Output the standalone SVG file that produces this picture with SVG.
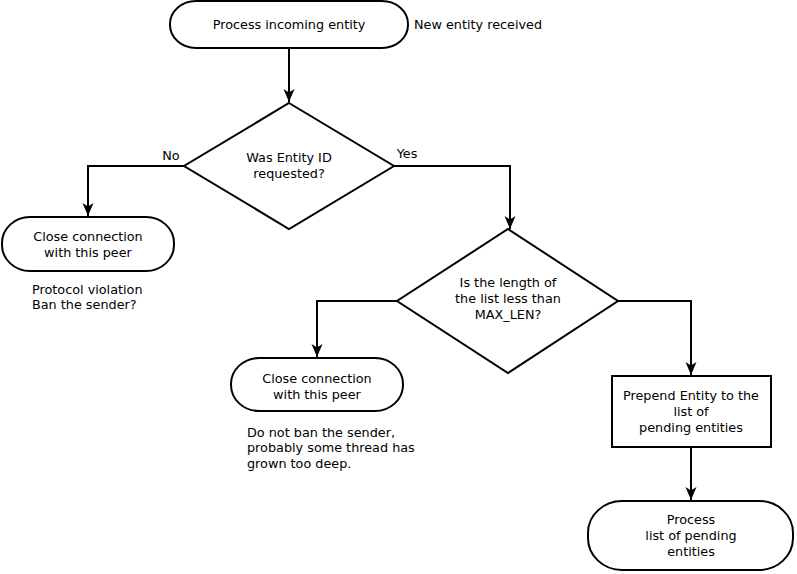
<svg xmlns="http://www.w3.org/2000/svg" width="797" height="574" viewBox="0 0 797 574">
  <style>
    .shape { fill: #ffffff; stroke: #000000; stroke-width: 2; }
    .edge { fill: none; stroke: #000000; stroke-width: 2; }
    text { font-family: "DejaVu Sans", "Liberation Sans", sans-serif; font-size: 12.8px; fill: #000000; }
    .c { text-anchor: middle; }
  </style>
  <defs>
    <marker id="arrow" markerUnits="userSpaceOnUse" markerWidth="14" markerHeight="14" viewBox="0 0 14 14" refX="13" refY="7" orient="auto">
      <path d="M0,1.5 L13,7 L0,12.5 L3.5,7 Z" fill="#000000"/>
    </marker>
  </defs>

  <rect width="797" height="574" fill="#ffffff"/>

  <!-- connectors -->
  <g id="connectors">
    <path class="edge" d="M289,48 V102" marker-end="url(#arrow)"/>
    <path class="edge" d="M184,166 H88 V216" marker-end="url(#arrow)"/>
    <path class="edge" d="M394,166 H510 V229" marker-end="url(#arrow)"/>
    <path class="edge" d="M397,301 H317 V357" marker-end="url(#arrow)"/>
    <path class="edge" d="M618,301 H691 V375" marker-end="url(#arrow)"/>
    <path class="edge" d="M691,447 V500" marker-end="url(#arrow)"/>
    <text x="171" y="160" class="c">No</text>
    <text x="407" y="158" class="c">Yes</text>
  </g>

  <!-- start -->
  <g id="start">
    <rect class="shape" x="170" y="1" width="238" height="47" rx="26" ry="23"/>
    <text x="289" y="29" class="c">Process incoming entity</text>
    <text x="414" y="29">New entity received</text>
  </g>

  <!-- decision: entity id requested -->
  <g id="check-requested">
    <polygon class="shape" points="289,103 394,166 289,229 184,166"/>
    <text x="289" y="162" class="c">Was Entity ID</text>
    <text x="289" y="178" class="c">requested?</text>
  </g>

  <!-- close: protocol violation -->
  <g id="close-violation">
    <rect class="shape" x="2" y="217" width="172" height="54" rx="28" ry="26"/>
    <text x="88" y="241" class="c">Close connection</text>
    <text x="88" y="257" class="c">with this peer</text>
    <text x="32" y="294">Protocol violation</text>
    <text x="32" y="309">Ban the sender?</text>
  </g>

  <!-- decision: list length -->
  <g id="check-length">
    <polygon class="shape" points="508,229 618,301 508,373 397,301"/>
    <text x="508" y="287" class="c">Is the length of</text>
    <text x="508" y="303" class="c">the list less than</text>
    <text x="508" y="319" class="c">MAX_LEN?</text>
  </g>

  <!-- close: too deep -->
  <g id="close-deep">
    <rect class="shape" x="231" y="358" width="172" height="53" rx="28" ry="26"/>
    <text x="317" y="383" class="c">Close connection</text>
    <text x="317" y="399" class="c">with this peer</text>
    <text x="247" y="437">Do not ban the sender,</text>
    <text x="247" y="452">probably some thread has</text>
    <text x="247" y="468">grown too deep.</text>
  </g>

  <!-- prepend -->
  <g id="prepend">
    <rect class="shape" x="612" y="376" width="159" height="71"/>
    <text x="691" y="400" class="c">Prepend Entity to the</text>
    <text x="691" y="416" class="c">list of</text>
    <text x="691" y="432" class="c">pending entities</text>
  </g>

  <!-- process pending -->
  <g id="process-pending">
    <rect class="shape" x="588" y="501" width="205" height="69" rx="34" ry="32"/>
    <text x="691" y="524" class="c">Process</text>
    <text x="691" y="540" class="c">list of pending</text>
    <text x="691" y="556" class="c">entities</text>
  </g>
</svg>
